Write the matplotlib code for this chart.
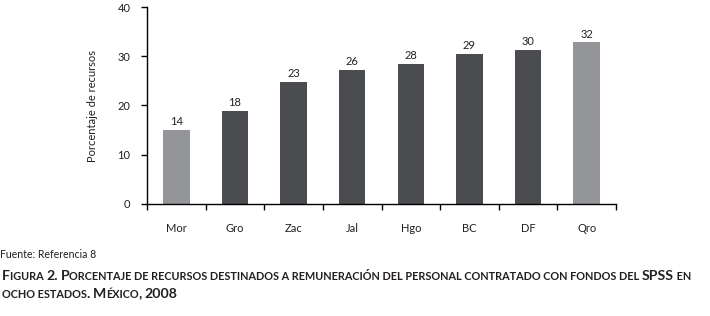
import matplotlib
matplotlib.use("Agg")
import matplotlib.pyplot as plt
from matplotlib.offsetbox import TextArea, HPacker, AnchoredOffsetbox

plt.rcParams['font.family'] = ['Lato', 'DejaVu Sans']

states = ["Mor", "Gro", "Zac", "Jal", "Hgo", "BC", "DF", "Qro"]
values = [15.0, 18.9, 24.8, 27.2, 28.4, 30.5, 31.3, 32.8]
labels = ["14", "18", "23", "26", "28", "29", "30", "32"]
highlight = ["Mor", "Qro"]
yticks = [0, 10, 20, 30, 40]

dark = "#4a4c4f"
light = "#939598"
txt = "#231f20"

fig = plt.figure(figsize=(7.10, 3.16), dpi=100)
ax = fig.add_axes([147/710, 1-204/316, (616-147)/710, (204-7)/316])

x = list(range(len(states)))
colors = [light if s in highlight else dark for s in states]
bars = ax.bar(x, values, width=0.45, color=colors)
for xi, v, lab in zip(x, values, labels):
    ax.text(xi, v + 0.6, lab, ha="center", va="bottom", fontsize=8, color=txt)

ax.set_xlim(-0.5, len(states) - 0.5)
ax.set_ylim(0, 40)
ax.set_yticks(yticks)
ax.set_yticklabels([str(t) for t in yticks], fontsize=8, color=txt)
ax.set_xticks([i - 0.5 for i in range(len(states) + 1)], minor=False)
ax.set_xticklabels([])
ax.set_xticks(x, minor=True)
ax.set_xticklabels(states, minor=True, fontsize=8, color=txt)
ax.tick_params(axis="x", which="major", direction="out", length=4, width=1, color="black")
ax.tick_params(axis="x", which="minor", length=0, pad=14)
ax.tick_params(axis="y", direction="out", length=4, width=1, pad=8)
for s in ["top", "right"]:
    ax.spines[s].set_visible(False)
for s in ["left", "bottom"]:
    ax.spines[s].set_linewidth(1)
ax.set_ylabel("Porcentaje de recursos", fontsize=8, color=txt, labelpad=14)

fig.text(0.0, 1 - 258/316, "Fuente: Referencia 8", fontsize=7.6, color=txt, ha="left", va="baseline")


def small_caps(text, big=10.2, small=7.8, color="#231f20"):
    runs = []
    for ch in text:
        is_small = ch.islower() or ch == " "
        if runs and runs[-1][0] == is_small:
            runs[-1][1] += ch
        else:
            runs.append([is_small, ch])
    boxes = []
    for is_small, s in runs:
        boxes.append(TextArea(s.upper(), textprops=dict(
            fontsize=small if is_small else big, fontweight="bold", color=color)))
    return HPacker(children=boxes, align="baseline", pad=0, sep=0)


line1 = "Figura 2. Porcentaje de recursos destinados a remuneración del personal contratado con fondos del SPSS en"
line2 = "ocho estados. México, 2008"
for line, ypix in [(line1, 282), (line2, 300)]:
    box = AnchoredOffsetbox(loc="lower left", child=small_caps(line), pad=0, borderpad=0,
                            frameon=False, bbox_to_anchor=(2/710, 1 - ypix/316),
                            bbox_transform=fig.transFigure)
    fig.add_artist(box)

fig.savefig("out.png", dpi=100)
